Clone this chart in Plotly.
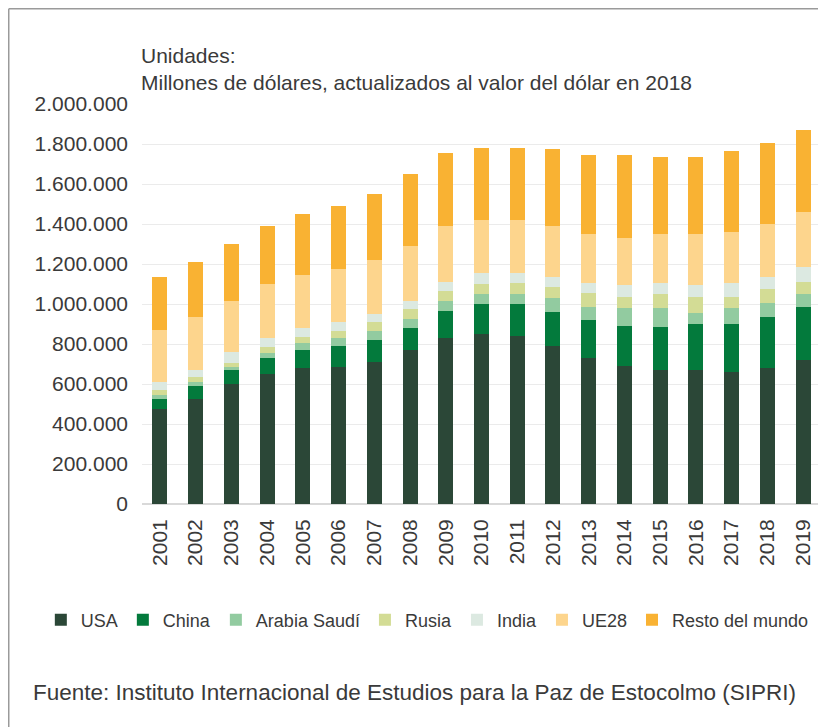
import plotly.graph_objects as go

# años
years = ['2001', '2002', '2003', '2004', '2005', '2006', '2007', '2008', '2009', '2010',
         '2011', '2012', '2013', '2014', '2015', '2016', '2017', '2018', '2019']

# gasto militar, millones de dólares (valor 2018)
usa = [473000, 523000, 600000, 650000, 678000, 687000, 708000, 770000, 828000, 848000,
       840000, 790000, 728000, 690000, 670000, 670000, 662000, 678000, 720000]
china = [50000, 67000, 70000, 80000, 92000, 103000, 112000, 108000, 139000, 150000,
         158000, 168000, 192000, 200000, 217000, 228000, 236000, 259000, 267000]
arabia = [22000, 22000, 17000, 23000, 37000, 38000, 47000, 47000, 48000, 50000,
          50000, 70000, 67000, 88000, 91000, 59000, 80000, 70000, 61000]
rusia = [24000, 21000, 20000, 34000, 30000, 39000, 41000, 50000, 52000, 50000,
         55000, 55000, 70000, 59000, 72000, 80000, 59000, 66000, 64000]
india = [43000, 37000, 51000, 41000, 41000, 41000, 40000, 40000, 45000, 55000,
         50000, 50000, 46000, 58000, 53000, 58000, 66000, 60000, 71000]
ue28 = [258000, 267000, 257000, 270000, 267000, 267000, 272000, 277000, 278000, 267000,
        267000, 257000, 245000, 233000, 245000, 253000, 255000, 265000, 275000]
resto = [267000, 275000, 285000, 292000, 303000, 313000, 328000, 356000, 363000, 362000,
         362000, 383000, 397000, 417000, 389000, 389000, 407000, 405000, 412000]

series = [
    ('USA', usa, '#2B4737'),
    ('China', china, '#037A3C'),
    ('Arabia Saudí', arabia, '#92CBA0'),
    ('Rusia', rusia, '#D3DC95'),
    ('India', india, '#DCE9E1'),
    ('UE28', ue28, '#FDD58D'),
    ('Resto del mundo', resto, '#F9B233'),
]

FONT = 'Liberation Sans, Arial, sans-serif'
TXT = '#3A3A3A'

fig = go.Figure()
for name, vals, col in series:
    fig.add_trace(go.Bar(x=years, y=vals, name=name, marker_color=col,
                         marker_line_width=0))

# la página tiene 8px de margen en el body, así que la figura es 8px más pequeña
fig.update_layout(
    width=818, height=719,
    barmode='stack', bargap=0.58,
    separators=',.',
    plot_bgcolor='white', paper_bgcolor='white',
    font=dict(family=FONT, size=21, color=TXT),
    margin=dict(l=134, r=5, t=96, b=223),
    showlegend=True,
    legend=dict(orientation='h', traceorder='normal', x=-0.149, xanchor='left',
                y=-0.29, yanchor='middle', font=dict(size=18, color=TXT),
                itemwidth=30, tracegroupgap=0),
)

fig.update_yaxes(range=[0, 2000000], dtick=200000, tickformat=',d',
                 gridcolor='#EBEBEB', gridwidth=1, zeroline=True,
                 zerolinecolor='#D9D9D9', zerolinewidth=1.5,
                 ticklabelstandoff=13, tickfont=dict(size=21, color=TXT))
fig.update_xaxes(type='category', tickangle=-90, showgrid=False,
                 tickfont=dict(size=21, color=TXT), ticklabelstandoff=10)

fig.add_annotation(text='Unidades:<br>Millones de dólares, actualizados al valor del dólar en 2018',
                   xref='paper', yref='paper', x=-0.004, y=1.155, xanchor='left', yanchor='top',
                   align='left', showarrow=False, font=dict(size=21, color=TXT))
fig.add_annotation(text='Fuente: Instituto Internacional de Estudios para la Paz de Estocolmo (SIPRI)',
                   xref='paper', yref='paper', x=-0.163, y=-0.47, xanchor='left', yanchor='middle',
                   showarrow=False, font=dict(size=22.5, color=TXT))

# marco gris del recuadro (solo se ven arriba e izquierda)
fig.add_shape(type='line', xref='paper', yref='paper', x0=-0.19625, x1=1.0074, y0=1.238, y1=1.238,
              line=dict(color='#9A9A9A', width=1.5))
fig.add_shape(type='line', xref='paper', yref='paper', x0=-0.19625, x1=-0.19625, y0=1.238, y1=-0.5575,
              line=dict(color='#9A9A9A', width=1.5))

fig.write_html('out.html')
